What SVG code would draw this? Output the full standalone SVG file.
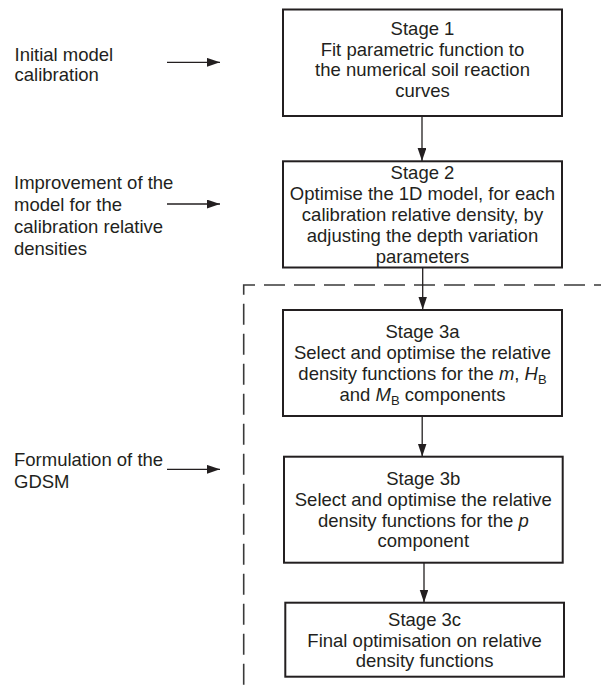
<svg xmlns="http://www.w3.org/2000/svg" width="601" height="686" viewBox="0 0 601 686">
<defs>
<style>
text{font-family:"Liberation Sans",Arial,sans-serif;font-size:18.5px;fill:#231f20}
.c{text-anchor:middle}
.box{fill:#fff;stroke:#231f20;stroke-width:2}
.conn{stroke:#231f20;stroke-width:1.3;fill:none}
.dash{stroke:#3a3a3a;stroke-width:1.6;fill:none;stroke-dasharray:21 9;stroke-dashoffset:14}
.i{font-style:italic}
.sub{font-size:13px}
</style>
<marker id="ah" markerUnits="userSpaceOnUse" markerWidth="14" markerHeight="10" refX="13" refY="4.4" orient="auto">
<path d="M0,0 L13,4.4 L0,8.8 Z" fill="#231f20"/>
</marker>
</defs>
<rect width="601" height="686" fill="#fff"/>
<path class="dash" d="M601,285 H243.7 V686"/>
<g id="connectors">
<line class="conn" x1="422" y1="116" x2="422" y2="161" marker-end="url(#ah)"/>
<line class="conn" x1="422.7" y1="267.5" x2="422.7" y2="309.5" marker-end="url(#ah)"/>
<line class="conn" x1="422.2" y1="416" x2="422.2" y2="456.5" marker-end="url(#ah)"/>
<line class="conn" x1="424" y1="562.7" x2="424" y2="602.5" marker-end="url(#ah)"/>
<line class="conn" x1="167" y1="62.3" x2="220" y2="62.3" marker-end="url(#ah)"/>
<line class="conn" x1="167" y1="204" x2="220" y2="204" marker-end="url(#ah)"/>
<line class="conn" x1="167" y1="469.3" x2="220" y2="469.3" marker-end="url(#ah)"/>
</g>
<g id="label1">
<text x="14.5" y="60.5">Initial model</text>
<text x="14.5" y="81">calibration</text>
</g>
<g id="label2">
<text x="14" y="189.4">Improvement of the</text>
<text x="14" y="211">model for the</text>
<text x="14" y="233">calibration relative</text>
<text x="14" y="255">densities</text>
</g>
<g id="label3">
<text x="14" y="466">Formulation of the</text>
<text x="14" y="487.7">GDSM</text>
</g>
<g id="stage1">
<rect class="box" x="283" y="9.5" width="279" height="106.5"/>
<text class="c" x="422.5" y="35">Stage 1</text>
<text class="c" x="422.5" y="55.7">Fit parametric function to</text>
<text class="c" x="422.5" y="76.3">the numerical soil reaction</text>
<text class="c" x="422.5" y="97">curves</text>
</g>
<g id="stage2">
<rect class="box" x="283" y="161.3" width="279" height="106.2"/>
<text class="c" x="422.5" y="179">Stage 2</text>
<text class="c" x="422.5" y="200">Optimise the 1D model, for each</text>
<text class="c" x="422.5" y="220.7">calibration relative density, by</text>
<text class="c" x="422.5" y="241.7">adjusting the depth variation</text>
<text class="c" x="422.5" y="262.5">parameters</text>
</g>
<g id="stage3a">
<rect class="box" x="283" y="310" width="279" height="106"/>
<text class="c" x="422.5" y="338.4">Stage 3a</text>
<text class="c" x="422.5" y="359.4">Select and optimise the relative</text>
<text class="c" x="422.5" y="380">density functions for the <tspan class="i">m</tspan>, <tspan class="i">H</tspan><tspan class="sub" dy="4">B</tspan></text>
<text class="c" x="422.5" y="400.7">and <tspan class="i">M</tspan><tspan class="sub" dy="4">B</tspan><tspan dy="-4"> components</tspan></text>
</g>
<g id="stage3b">
<rect class="box" x="284" y="456.7" width="278.7" height="106"/>
<text class="c" x="423.3" y="485">Stage 3b</text>
<text class="c" x="423.3" y="506">Select and optimise the relative</text>
<text class="c" x="423.3" y="526.7">density functions for the <tspan class="i">p</tspan></text>
<text class="c" x="423.3" y="547.4">component</text>
</g>
<g id="stage3c">
<rect class="box" x="285.3" y="602.7" width="278.7" height="74"/>
<text class="c" x="424.6" y="626">Stage 3c</text>
<text class="c" x="424.6" y="646.7">Final optimisation on relative</text>
<text class="c" x="424.6" y="667.4">density functions</text>
</g>
</svg>
